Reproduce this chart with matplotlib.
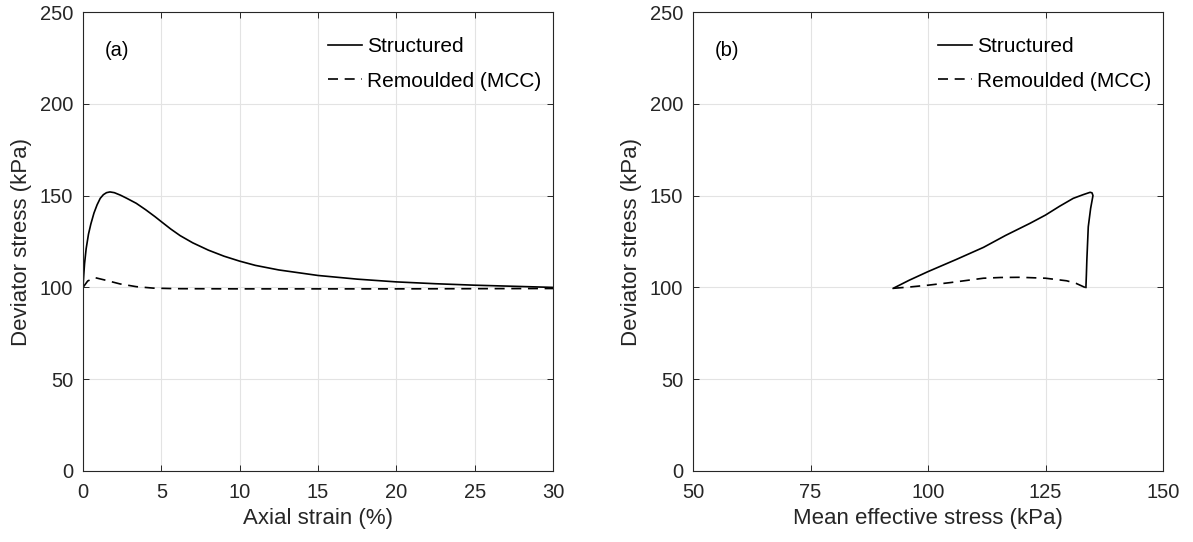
import matplotlib
matplotlib.use("Agg")
import matplotlib.pyplot as plt

plt.rcParams['font.family'] = ['Liberation Sans', 'DejaVu Sans']

# (a) deviator stress vs axial strain
strain_struct = [0.0, 0.05, 0.1, 0.2, 0.35, 0.5, 0.7, 0.9, 1.1, 1.3, 1.5, 1.72, 2.0, 2.4, 2.8, 3.4, 4.0, 4.6,
                 5.0, 5.6, 6.2, 7.0, 8.0, 9.0, 10.0, 11.0, 12.5, 15.0, 17.5, 20.0, 22.5, 25.0, 27.5, 30.0]
q_struct_a = [100.0, 107.0, 113.0, 121.0, 129.0, 134.5, 140.5, 145.0, 148.5, 150.5, 151.6, 152.0, 151.6, 150.2,
              148.5, 145.8, 142.3, 138.5, 135.8, 131.8, 128.2, 124.3, 120.3, 117.0, 114.3, 112.0, 109.5, 106.5,
              104.5, 103.0, 102.0, 101.2, 100.6, 100.0]
strain_remo = [0.0, 0.3, 0.77, 1.4, 2.36, 3.4, 4.5, 6.0, 10.0, 15.0, 20.0, 25.0, 30.0]
q_remo_a = [100.0, 103.5, 105.3, 104.0, 101.9, 100.4, 99.6, 99.3, 99.2, 99.2, 99.2, 99.3, 99.4]

# (b) stress paths in p'-q space
p_struct = [133.6, 133.7, 133.8, 134.1, 134.6, 135.1, 134.9, 134.5, 133.0, 130.9, 128.0, 125.0, 121.7, 116.5,
            111.8, 106.0, 100.0, 96.0, 92.6]
q_struct_b = [100.0, 107.0, 115.0, 133.0, 143.0, 150.0, 151.5, 151.8, 150.5, 148.5, 144.2, 139.4, 134.9, 128.3,
              121.8, 115.2, 108.6, 103.9, 99.5]
p_remo = [133.4, 131.5, 129.5, 125.0, 119.6, 115.5, 111.8, 104.7, 100.0, 96.0, 92.6]
q_remo_b = [100.0, 102.2, 103.6, 105.0, 105.5, 105.4, 105.0, 102.6, 101.2, 100.2, 99.5]

yticks = [0, 50, 100, 150, 200, 250]
xticks_a = [0, 5, 10, 15, 20, 25, 30]
xticks_b = [50, 75, 100, 125, 150]

fig = plt.figure(figsize=(11.93, 5.42), dpi=100)
ax1 = fig.add_axes([83 / 1193, 71 / 542, 470 / 1193, 459 / 542])
ax2 = fig.add_axes([693 / 1193, 71 / 542, 470 / 1193, 459 / 542])

dark = '#262626'

def style(ax, xticks, xlabel, tag):
    ax.set_ylim(0, 250)
    ax.set_yticks(yticks)
    ax.set_xticks(xticks)
    ax.set_xlim(xticks[0], xticks[-1])
    ax.grid(True, color='#e3e3e3', linewidth=0.8)
    ax.set_axisbelow(True)
    ax.tick_params(direction='in', length=4, width=0.7, colors=dark,
                   labelsize=14.5, top=True, right=True)
    ax.tick_params(axis='x', pad=9)
    ax.tick_params(axis='y', pad=7)
    for s in ax.spines.values():
        s.set_color(dark)
        s.set_linewidth(0.8)
    ax.set_xlabel(xlabel, fontsize=16, color=dark, labelpad=4)
    ax.set_ylabel('Deviator stress (kPa)', fontsize=16, color=dark, labelpad=6)
    ax.text(0.047, 0.917, tag, transform=ax.transAxes, fontsize=14.5,
            color='black', va='center', ha='left')
    leg = ax.legend(loc='upper right', frameon=False, fontsize=15,
                    handlelength=1.6, handletextpad=0.25, labelspacing=0.74,
                    borderaxespad=0.0, borderpad=0.0, bbox_to_anchor=(0.975, 0.945))
    for t in leg.get_texts():
        t.set_color('black')

ax1.plot(strain_struct, q_struct_a, color='black', lw=1.2, label='Structured')
ax1.plot(strain_remo, q_remo_a, color='black', lw=1.2, ls=(0, (6, 4)), label='Remoulded (MCC)')
style(ax1, xticks_a, 'Axial strain (%)', '(a)')

ax2.plot(p_struct, q_struct_b, color='black', lw=1.2, label='Structured')
ax2.plot(p_remo, q_remo_b, color='black', lw=1.2, ls=(0, (6, 4)), label='Remoulded (MCC)')
style(ax2, xticks_b, 'Mean effective stress (kPa)', '(b)')

fig.savefig('out.png', dpi=100)
